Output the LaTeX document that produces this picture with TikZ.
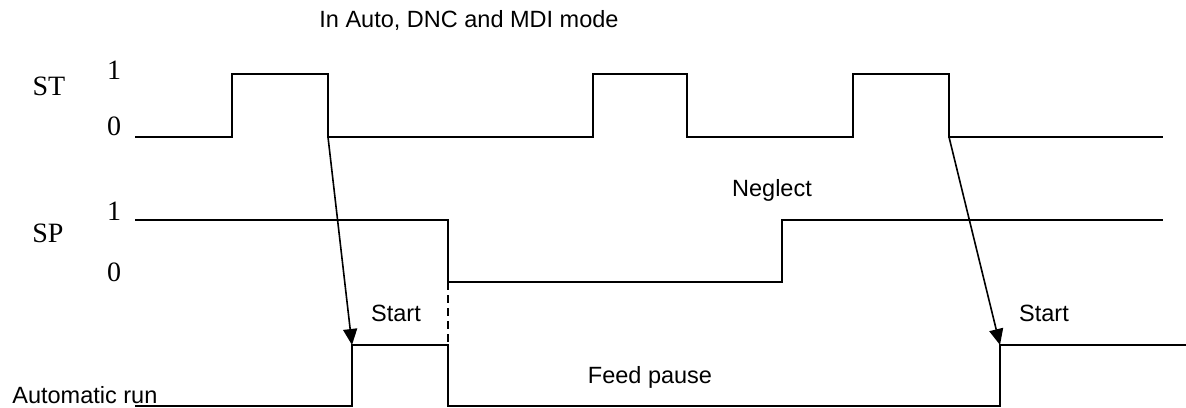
\documentclass[tikz,border=0pt]{standalone}
\usepackage{fontspec}
\setmainfont{Liberation Serif}
\newfontfamily\arialfont{Liberation Sans}
\usetikzlibrary{arrows.meta}
\begin{document}
\begin{tikzpicture}[x=0.5pt,y=-0.5pt,
  wave/.style={line width=1pt, line join=miter, line cap=butt},
  sans/.style={font=\arialfont\fontsize{11.75}{14}\selectfont, inner sep=0pt},
  serif/.style={font=\fontsize{14}{16}\selectfont, inner sep=0pt},
  trig/.style={line width=0.8pt, -{Triangle[length=8pt,width=7pt]}}]
\useasboundingbox (0,0) rectangle (1186,407);
% ST waveform
\draw[wave] (135,137) -- (232,137) -- (232,74) -- (328,74) -- (328,137) coordinate (stfallA)
  -- (593,137) -- (593,74) -- (687,74) -- (687,137) -- (853,137) -- (853,74) -- (949,74)
  -- (949,137) coordinate (stfallB) -- (1163,137);
% SP waveform
\draw[wave] (135,220) -- (448,220) -- (448,282) -- (782,282) -- (782,220) -- (1163,220);
% Automatic run waveform
\draw[wave] (135,406) -- (352,406) -- (352,345) coordinate (runA) -- (448,345) -- (448,406)
  -- (1000,406) -- (1000,345) coordinate (runB) -- (1186,345);
\draw[wave, dash pattern=on 4pt off 2.5pt] (448,282) -- (448,345);
% trigger arrows
\draw[trig] (stfallA) -- (runA);
\draw[trig] (stfallB) -- (runB);
% labels
\node[sans, anchor=base] (title) at (469,27) {In Auto, DNC and MDI mode};
\node[serif] (stlbl) at (49,86) {ST};
\node[serif] (st1) at (114,70) {1};
\node[serif] (st0) at (114,126) {0};
\node[serif] (splbl) at (48,233) {SP};
\node[serif] (sp1) at (114,211) {1};
\node[serif] (sp0) at (114,272) {0};
\node[sans, anchor=base] (neglect) at (772,196) {Neglect};
\node[sans, anchor=base] (startA) at (396,321) {Start};
\node[sans, anchor=base] (startB) at (1044,321) {Start};
\node[sans, anchor=base] (feed) at (650,383) {Feed pause};
\node[sans, anchor=base west] (autorun) at (12,403) {Automatic run};
\end{tikzpicture}
\end{document}
